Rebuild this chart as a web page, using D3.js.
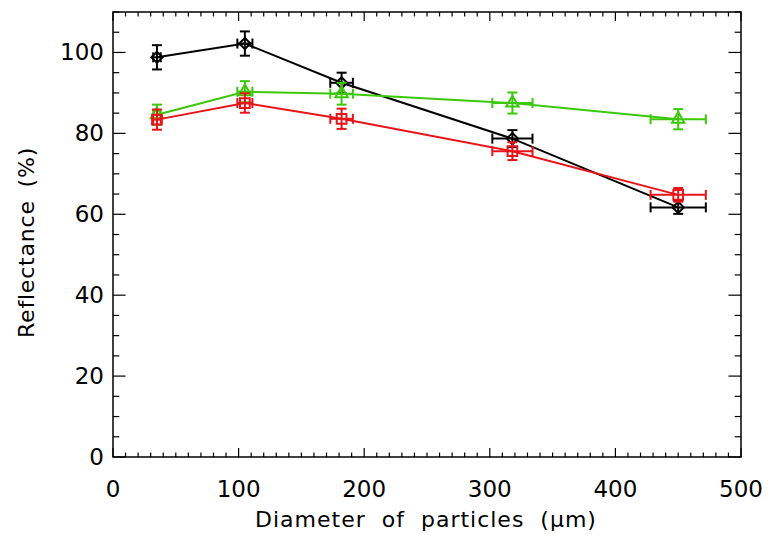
<!DOCTYPE html>
<html>
<head>
<meta charset="utf-8">
<script src="https://cdn.jsdelivr.net/npm/d3@7"></script>
<style>
  body { margin: 0; background: #fff; }
  svg text { font-family: "DejaVu Sans", sans-serif; fill: #000; }
</style>
</head>
<body>
<svg id="chart" width="771" height="535"></svg>
<script>
// Particle diameters (µm) and horizontal error
const diameters = [35, 105, 182, 318, 450];
const diameterErr = [3, 6, 9, 16, 22];

// Reflectance (%) per series, with vertical error
const blackValues = [98.8, 102.2, 92.5, 78.7, 61.7];
const blackErr = [3, 3, 2.5, 2.1, 1.6];
const redValues = [83.4, 87.5, 83.6, 75.6, 64.8];
const redErr = [2.5, 2.4, 2.5, 2.2, 1.7];
const greenValues = [84.6, 90.3, 89.8, 87.5, 83.5];
const greenErr = [2.5, 2.6, 2.7, 2.6, 2.5];

const xTicks = [0, 100, 200, 300, 400, 500];
const yTicks = [0, 20, 40, 60, 80, 100];

const series = [
  { name: "black", color: "#000000", symbol: "diamond", values: blackValues, err: blackErr },
  { name: "green", color: "#3cc80a", symbol: "triangle", values: greenValues, err: greenErr },
  { name: "red", color: "#e8141a", symbol: "square", values: redValues, err: redErr }
];

const svg = d3.select("#chart");
const margin = { top: 12, right: 30, bottom: 78, left: 113 };
const width = 771, height = 535;
const x0 = margin.left, x1 = width - margin.right;
const y0 = height - margin.bottom, y1 = margin.top;

const x = d3.scaleLinear().domain([0, 500]).range([x0, x1]);
const y = d3.scaleLinear().domain([0, 110]).range([y0, y1]);

const plotH = y0 - y1, plotW = x1 - x0;
const xMajor = plotH * 0.02, yMajor = plotW * 0.02;

// Axes: bottom/top and left/right, ticks inward (IDL style)
const xMinor = d3.range(0, 501, 10);
const yMinor = d3.range(0, 111, 5);

const axes = svg.append("g").attr("stroke", "#000").attr("stroke-width", 1.2);
xMinor.forEach(v => {
  const len = v % 100 === 0 ? xMajor : xMajor / 2;
  axes.append("line").attr("x1", x(v)).attr("x2", x(v)).attr("y1", y0).attr("y2", y0 - len);
  axes.append("line").attr("x1", x(v)).attr("x2", x(v)).attr("y1", y1).attr("y2", y1 + len);
});
yMinor.forEach(v => {
  const len = v % 20 === 0 ? yMajor : yMajor / 2;
  axes.append("line").attr("x1", x0).attr("x2", x0 + len).attr("y1", y(v)).attr("y2", y(v));
  axes.append("line").attr("x1", x1).attr("x2", x1 - len).attr("y1", y(v)).attr("y2", y(v));
});
axes.append("rect")
  .attr("x", x0).attr("y", y1).attr("width", plotW).attr("height", plotH)
  .attr("fill", "none").attr("stroke-width", 1.5);

// Tick labels
svg.append("g").selectAll("text").data(xTicks).join("text")
  .attr("x", d => x(d)).attr("y", y0 + 40)
  .attr("text-anchor", "middle").attr("font-size", 23)
  .text(d => d);
svg.append("g").selectAll("text").data(yTicks).join("text")
  .attr("x", x0 - 9).attr("y", d => y(d) + 8)
  .attr("text-anchor", "end").attr("font-size", 23)
  .text(d => d);

// Axis titles
svg.append("text")
  .attr("x", (x0 + x1) / 2 - 1).attr("y", y0 + 70)
  .attr("text-anchor", "middle").attr("font-size", 22)
  .attr("letter-spacing", 1).attr("word-spacing", 8)
  .text("Diameter of particles (\u03bcm)");
svg.append("text")
  .attr("transform", `translate(34, ${(y0 + y1) / 2 + 8}) rotate(-90)`)
  .attr("text-anchor", "middle").attr("font-size", 22)
  .attr("letter-spacing", 0.8).attr("word-spacing", 5)
  .text("Reflectance (%)");

// Series
const symbols = { diamond: d3.symbolDiamond2, triangle: d3.symbolTriangle2, square: d3.symbolSquare2 };
const symSize = { diamond: 80, triangle: 110, square: 120 };
const line = d3.line().x(d => x(d.x)).y(d => y(d.y));
const cap = 5;

series.forEach(s => {
  const pts = diameters.map((d, i) => ({ x: d, y: s.values[i], ex: diameterErr[i], ey: s.err[i] }));
  const g = svg.append("g").attr("stroke", s.color).attr("fill", "none").attr("stroke-width", 2);

  g.append("path").datum(pts).attr("d", line);

  pts.forEach(p => {
    const cx = x(p.x), cy = y(p.y);
    const ya = y(p.y + p.ey), yb = y(p.y - p.ey);
    const xa = x(p.x - p.ex), xb = x(p.x + p.ex);
    g.append("line").attr("x1", cx).attr("x2", cx).attr("y1", ya).attr("y2", yb);
    g.append("line").attr("x1", cx - cap).attr("x2", cx + cap).attr("y1", ya).attr("y2", ya);
    g.append("line").attr("x1", cx - cap).attr("x2", cx + cap).attr("y1", yb).attr("y2", yb);
    g.append("line").attr("x1", xa).attr("x2", xb).attr("y1", cy).attr("y2", cy);
    g.append("line").attr("x1", xa).attr("x2", xa).attr("y1", cy - cap).attr("y2", cy + cap);
    g.append("line").attr("x1", xb).attr("x2", xb).attr("y1", cy - cap).attr("y2", cy + cap);
    g.append("path")
      .attr("transform", `translate(${cx},${cy})`)
      .attr("d", d3.symbol().type(symbols[s.symbol]).size(symSize[s.symbol])());
  });
});
</script>
</body>
</html>
